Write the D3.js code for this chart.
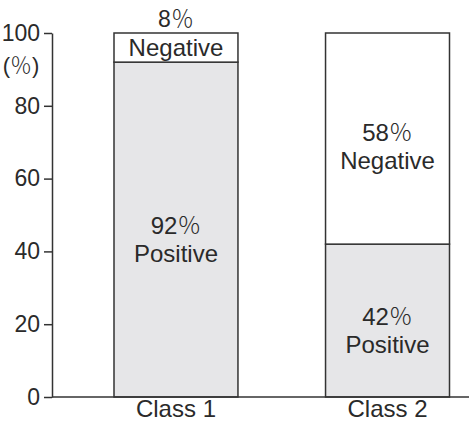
<!DOCTYPE html>
<html>
<head>
<meta charset="utf-8">
<script src="https://cdn.jsdelivr.net/npm/d3@7"></script>
<style>
  body { margin: 0; background: #fff; }
  text { font-family: "Liberation Sans", Arial, sans-serif; fill: #2a2a2a; }
  .pct { font-family: "Noto Sans CJK JP", sans-serif; font-weight: 300; }
</style>
</head>
<body>
<div id="grafico"></div>
<script>
// dados
const classes = ["Class 1", "Class 2"];
const positivos = [92, 42];
const negativos = [8, 58];
const ticksY = [0, 20, 40, 60, 80, 100];

// medidas
const W = 469, H = 423;
const topo = 33, base = 397, eixoX = 52;

const svg = d3.select("#grafico").append("svg")
  .attr("width", W).attr("height", H);

const y = d3.scaleLinear().domain([0, 100]).range([base, topo]);
const x = d3.scaleBand().domain(classes).range([114, 449.5]).paddingInner(0.414);

const linhas = classes.map((c, i) => ({ c, pos: positivos[i], neg: negativos[i] }));

// barras
const g = svg.append("g");
linhas.forEach(d => {
  g.append("rect")
    .attr("x", x(d.c)).attr("y", y(d.pos))
    .attr("width", x.bandwidth()).attr("height", y(0) - y(d.pos))
    .attr("fill", "#e6e6e8").attr("stroke", "#333").attr("stroke-width", 1.5);
  g.append("rect")
    .attr("x", x(d.c)).attr("y", y(100))
    .attr("width", x.bandwidth()).attr("height", y(d.pos) - y(100))
    .attr("fill", "#fff").attr("stroke", "#333").attr("stroke-width", 1.5);
});

// rótulos
const fs = 24;
function pct(sel, v) {
  sel.append("tspan").text(v);
  sel.append("tspan").attr("class", "pct").text("％");
}
linhas.forEach(d => {
  const cx = x(d.c) + x.bandwidth() / 2;
  const mp = (y(0) + y(d.pos)) / 2;
  g.append("text").attr("x", cx).attr("y", mp + 4).attr("text-anchor", "middle")
    .attr("font-size", fs).call(pct, d.pos);
  g.append("text").attr("x", cx).attr("y", mp + 32).attr("text-anchor", "middle")
    .attr("font-size", fs).text("Positive");

  const mn = (y(d.pos) + y(100)) / 2;
  if (y(d.pos) - y(100) < 60) {
    // segmento pequeno: percentual acima da barra
    g.append("text").attr("x", cx).attr("y", y(100) - 6).attr("text-anchor", "middle")
      .attr("font-size", 23).call(pct, d.neg);
    g.append("text").attr("x", cx).attr("y", mn + 8).attr("text-anchor", "middle")
      .attr("font-size", fs).text("Negative");
  } else {
    g.append("text").attr("x", cx).attr("y", mn + 2).attr("text-anchor", "middle")
      .attr("font-size", fs).call(pct, d.neg);
    g.append("text").attr("x", cx).attr("y", mn + 30).attr("text-anchor", "middle")
      .attr("font-size", fs).text("Negative");
  }
});

// eixo Y
const eixo = svg.append("g").attr("transform", `translate(${eixoX},0)`)
  .call(d3.axisLeft(y).tickValues(ticksY).tickSize(8).tickSizeOuter(0).tickPadding(4));
eixo.select(".domain").attr("stroke", "#333").attr("stroke-width", 1.5);
eixo.selectAll(".tick line").attr("stroke", "#333").attr("stroke-width", 1.5);
eixo.selectAll(".tick text").attr("font-size", 23).attr("fill", "#2a2a2a")
  .attr("font-family", "Liberation Sans, Arial, sans-serif");

const unidade = svg.append("text").attr("x", 21).attr("y", 73).attr("text-anchor", "middle")
  .attr("font-size", 22);
unidade.append("tspan").text("(");
unidade.append("tspan").attr("class", "pct").text("％");
unidade.append("tspan").text(")");

// eixo X
svg.append("line").attr("x1", eixoX).attr("x2", W).attr("y1", base).attr("y2", base)
  .attr("stroke", "#333").attr("stroke-width", 1.5);

svg.selectAll(".classe").data(classes).join("text")
  .attr("class", "classe")
  .attr("x", d => x(d) + x.bandwidth() / 2).attr("y", 417)
  .attr("text-anchor", "middle").attr("font-size", fs).text(d => d);
</script>
</body>
</html>
